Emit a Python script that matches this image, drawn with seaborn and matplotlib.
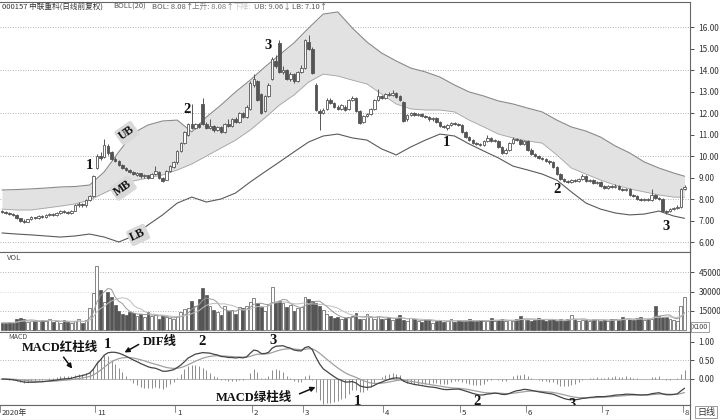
import numpy as np
import pandas as pd
import seaborn as sns
import matplotlib.pyplot as plt

sns.set_theme(style="white")
plt.rcParams['font.family'] = ['Noto Sans CJK SC', 'DejaVu Sans']
plt.rcParams['axes.unicode_minus'] = False

# daily candles (about 188 trading days)
opens = [7.45, 7.40, 7.35, 7.30, 7.25, 7.10, 7.00, 6.95, 7.05, 7.15,
         7.10, 7.20, 7.15, 7.25, 7.30, 7.25, 7.35, 7.45, 7.40, 7.35,
         7.45, 7.70, 7.75, 7.70, 7.95, 8.15, 9.45, 10.00, 9.95, 10.45,
         10.20, 9.85, 9.75, 9.60, 9.45, 9.35, 9.25, 9.10, 9.20, 9.05,
         9.10, 9.00, 9.15, 9.25, 9.00, 8.90, 9.30, 9.50, 9.70, 10.25,
         10.60, 11.00, 11.50, 11.30, 11.50, 12.40, 11.50, 11.30, 11.40, 11.20,
         11.35, 11.10, 11.50, 11.40, 11.70, 11.60, 12.00, 11.80, 12.20, 13.30,
         13.50, 12.90, 12.10, 12.80, 13.60, 14.40, 15.25, 13.90, 14.00, 13.60,
         13.80, 13.50, 13.90, 14.10, 15.30, 15.00, 13.30, 12.10, 12.00, 12.20,
         12.60, 12.45, 12.30, 12.20, 12.30, 12.20, 12.60, 12.70, 12.10, 11.60,
         11.85, 11.95, 12.20, 12.60, 12.80, 12.70, 12.90, 12.85, 12.95, 12.80,
         12.50, 11.70, 11.90, 12.00, 11.90, 11.95, 11.85, 11.80, 11.70, 11.75,
         11.60, 11.40, 11.30, 11.45, 11.55, 11.50, 11.45, 11.10, 10.90, 10.75,
         10.60, 10.55, 10.50, 10.70, 10.85, 10.70, 10.70, 10.40, 10.15, 10.30,
         10.60, 10.80, 10.75, 10.55, 10.70, 10.30, 10.10, 10.00, 9.90, 9.85,
         9.75, 9.70, 9.50, 9.15, 8.95, 8.85, 8.80, 8.90, 8.85, 8.95,
         9.05, 8.85, 8.90, 8.75, 8.80, 8.60, 8.50, 8.60, 8.55, 8.60,
         8.45, 8.40, 8.45, 8.20, 8.15, 8.00, 7.95, 8.00, 7.95, 8.20,
         8.05, 8.00, 7.45, 7.45, 7.55, 7.60, 7.65, 8.45]
closes = [7.40, 7.35, 7.30, 7.25, 7.10, 7.00, 6.95, 7.05, 7.15, 7.10,
          7.20, 7.15, 7.25, 7.30, 7.25, 7.35, 7.45, 7.40, 7.35, 7.45,
          7.70, 7.75, 7.70, 7.95, 8.15, 9.05, 10.00, 9.90, 10.50, 10.15,
          9.85, 9.75, 9.60, 9.45, 9.35, 9.25, 9.15, 9.20, 9.05, 9.10,
          9.00, 9.15, 9.30, 9.00, 8.85, 9.30, 9.55, 9.70, 10.25, 10.60,
          11.10, 11.50, 11.30, 11.50, 11.35, 11.50, 11.30, 11.40, 11.20, 11.35,
          11.10, 11.50, 11.40, 11.70, 11.60, 12.00, 11.80, 12.30, 13.40, 13.60,
          12.60, 12.00, 12.80, 13.30, 14.50, 14.20, 13.90, 14.00, 13.60, 13.80,
          13.50, 13.90, 14.10, 15.40, 15.00, 13.85, 12.15, 12.00, 12.15, 12.60,
          12.45, 12.30, 12.20, 12.35, 12.15, 12.60, 12.70, 12.10, 11.55, 11.85,
          11.95, 12.20, 12.60, 12.80, 12.70, 12.90, 12.85, 12.95, 12.75, 12.60,
          11.65, 11.90, 12.00, 11.90, 11.95, 11.85, 11.80, 11.70, 11.75, 11.60,
          11.40, 11.35, 11.45, 11.55, 11.50, 11.45, 11.10, 10.90, 10.75, 10.60,
          10.55, 10.50, 10.70, 10.85, 10.70, 10.75, 10.40, 10.15, 10.30, 10.60,
          10.80, 10.75, 10.55, 10.70, 10.30, 10.10, 10.00, 9.90, 9.85, 9.75,
          9.70, 9.50, 9.15, 8.95, 8.85, 8.80, 8.90, 8.85, 8.95, 9.05,
          8.85, 8.90, 8.75, 8.80, 8.60, 8.50, 8.60, 8.55, 8.60, 8.45,
          8.40, 8.45, 8.20, 8.15, 8.00, 7.95, 8.00, 7.95, 8.20, 8.05,
          8.00, 7.45, 7.40, 7.55, 7.60, 7.65, 8.45, 8.55]
highs = [7.50, 7.45, 7.40, 7.35, 7.28, 7.12, 7.05, 7.08, 7.20, 7.18,
         7.25, 7.24, 7.30, 7.35, 7.33, 7.40, 7.50, 7.50, 7.45, 7.50,
         7.75, 7.85, 7.80, 8.00, 8.20, 9.10, 10.10, 10.20, 10.80, 10.55,
         10.25, 9.95, 9.80, 9.65, 9.50, 9.40, 9.30, 9.25, 9.22, 9.15,
         9.12, 9.20, 9.55, 9.28, 9.02, 9.35, 9.60, 9.75, 10.30, 10.65,
         11.15, 11.55, 12.40, 11.55, 11.55, 12.70, 11.60, 11.70, 11.45, 11.40,
         11.40, 11.55, 11.70, 11.75, 11.80, 12.05, 12.05, 12.35, 13.50, 13.80,
         13.55, 12.95, 12.85, 13.40, 14.60, 14.70, 15.40, 14.20, 14.05, 13.90,
         13.85, 13.95, 14.25, 15.45, 15.65, 15.05, 13.40, 12.20, 12.25, 12.70,
         12.70, 12.50, 12.35, 12.40, 12.35, 12.65, 12.80, 12.75, 12.15, 11.90,
         12.00, 12.25, 12.65, 13.10, 12.85, 12.95, 13.00, 13.05, 13.00, 12.85,
         12.55, 11.95, 12.05, 12.05, 12.00, 12.00, 11.90, 11.85, 11.80, 11.80,
         11.65, 11.45, 11.50, 11.60, 11.60, 11.55, 11.50, 11.15, 10.95, 10.80,
         10.65, 10.60, 10.75, 11.00, 10.90, 10.80, 10.75, 10.45, 10.35, 10.65,
         10.90, 10.85, 10.80, 10.75, 10.75, 10.35, 10.15, 10.05, 9.95, 9.90,
         9.80, 9.75, 9.55, 9.20, 9.00, 8.90, 8.95, 8.95, 9.00, 9.15,
         9.10, 8.95, 8.95, 8.85, 8.85, 8.65, 8.65, 8.65, 8.70, 8.65,
         8.50, 8.50, 8.50, 8.25, 8.20, 8.05, 8.05, 8.05, 8.45, 8.25,
         8.10, 8.05, 7.50, 7.60, 7.65, 7.70, 8.50, 8.65]
lows = [7.35, 7.30, 7.25, 7.20, 7.05, 6.95, 6.90, 6.92, 7.02, 7.05,
        7.08, 7.10, 7.12, 7.20, 7.20, 7.22, 7.30, 7.35, 7.30, 7.32,
        7.42, 7.65, 7.62, 7.65, 7.90, 8.10, 9.40, 9.80, 9.90, 10.05,
        9.80, 9.70, 9.55, 9.40, 9.30, 9.20, 9.10, 9.05, 9.00, 9.00,
        8.95, 8.98, 9.10, 8.95, 8.80, 8.88, 9.25, 9.45, 9.65, 10.20,
        10.55, 10.95, 11.25, 11.25, 11.30, 11.45, 11.25, 11.25, 11.10, 11.15,
        11.05, 11.05, 11.35, 11.35, 11.55, 11.55, 11.75, 11.75, 12.15, 13.20,
        12.55, 11.95, 12.05, 12.75, 13.55, 14.10, 13.85, 13.80, 13.55, 13.50,
        13.40, 13.45, 13.85, 14.05, 14.95, 13.80, 12.10, 11.20, 11.95, 12.15,
        12.40, 12.25, 12.15, 12.15, 12.10, 12.15, 12.55, 12.05, 11.50, 11.55,
        11.80, 11.90, 12.15, 12.55, 12.65, 12.65, 12.80, 12.80, 12.70, 12.55,
        11.60, 11.65, 11.85, 11.85, 11.85, 11.80, 11.75, 11.65, 11.65, 11.55,
        11.35, 11.30, 11.20, 11.40, 11.45, 11.40, 11.05, 10.85, 10.70, 10.55,
        10.50, 10.45, 10.45, 10.65, 10.65, 10.65, 10.35, 10.10, 10.10, 10.25,
        10.55, 10.70, 10.50, 10.50, 10.25, 10.05, 9.95, 9.85, 9.80, 9.70,
        9.65, 9.45, 9.10, 8.90, 8.80, 8.75, 8.75, 8.80, 8.80, 8.90,
        8.80, 8.80, 8.70, 8.70, 8.55, 8.45, 8.45, 8.50, 8.50, 8.40,
        8.35, 8.35, 8.15, 8.10, 7.95, 7.90, 7.90, 7.90, 7.90, 8.00,
        7.95, 7.40, 7.30, 7.40, 7.50, 7.55, 7.60, 8.40]
volume = [6000, 5800, 6200, 6000, 8500, 9500, 9000, 6500, 7000, 7500,
          7000, 8000, 7500, 8500, 6500, 7000, 6000, 8000, 6500, 5500,
          7500, 9000, 6000, 8000, 17000, 29000, 49500, 31000, 22000, 30000,
          26000, 19500, 15000, 13000, 12000, 14000, 13500, 11000, 12500, 10500,
          14000, 11000, 12000, 9000, 11500, 10000, 9500, 8500, 11000, 14000,
          16500, 17500, 23000, 19000, 24000, 32500, 27000, 19000, 16000, 14000,
          12000, 19000, 15000, 15500, 13000, 18000, 17000, 19000, 22000, 25000,
          21000, 18000, 15000, 20000, 33500, 22000, 23000, 21000, 18000, 20000,
          15000, 17000, 18000, 26000, 24000, 23000, 21000, 19000, 16000, 13000,
          11000, 9500, 10000, 9000, 9500, 10500, 11000, 13500, 9000, 8500,
          13000, 10000, 9000, 11500, 8500, 9000, 10000, 8000, 9500, 12000,
          8000, 7000, 9500, 8500, 7000, 6500, 8500, 9000, 6000, 7500,
          8000, 6500, 7000, 9000, 6500, 8000, 7000, 7500, 8500, 7000,
          7500, 8000, 7000, 7500, 9500, 7500, 8000, 8500, 7000, 8000,
          7500, 8500, 11500, 9000, 8000, 7500, 8000, 9500, 8500, 7500,
          8000, 8500, 7000, 8500, 7000, 8500, 12000, 8500, 7500, 8000,
          8000, 7000, 8500, 9000, 7500, 8000, 7000, 8500, 9000, 8000,
          10500, 8500, 9000, 8000, 9500, 10000, 8000, 8500, 9000, 19000,
          11000, 10000, 10500, 9000, 8000, 7500, 18500, 26000]

# Bollinger band every 4th day
band_day = list(range(0, 185, 4)) + [187]
ub = [8.42, 8.44, 8.47, 8.51, 8.56, 8.58, 8.65, 9.26, 10.19, 11.07,
      11.44, 11.63, 11.67, 11.12, 11.81, 12.37, 12.98, 13.53, 14.14, 14.70,
      15.26, 15.95, 16.60, 16.70, 15.95, 15.30, 14.79, 14.42, 14.09, 13.91,
      13.67, 13.30, 12.98, 12.79, 12.56, 12.42, 12.23, 12.05, 11.67, 11.35,
      11.16, 10.88, 10.47, 10.14, 9.72, 9.44, 9.21, 9.06]
mb = [7.53, 7.49, 7.49, 7.58, 7.67, 7.77, 7.95, 8.28, 8.60, 8.84,
      8.98, 9.12, 9.35, 9.63, 10.00, 10.37, 10.74, 11.21, 11.77, 12.37,
      12.84, 13.44, 13.81, 13.72, 13.53, 13.35, 12.88, 12.42, 12.19, 12.14,
      12.14, 12.05, 11.67, 11.35, 11.02, 10.84, 10.70, 10.60, 10.05, 9.44,
      9.16, 8.88, 8.65, 8.47, 8.33, 8.19, 8.09, 8.08]
lb = [6.42, 6.37, 6.33, 6.28, 6.23, 6.28, 6.37, 6.23, 6.00, 6.28,
      6.79, 7.26, 7.81, 8.09, 7.86, 8.00, 8.28, 8.79, 9.26, 9.72,
      10.19, 10.65, 10.93, 11.02, 10.84, 10.74, 10.33, 10.05, 10.42, 10.74,
      11.02, 10.93, 10.56, 10.23, 9.91, 9.53, 9.35, 9.16, 8.88, 8.33,
      7.81, 7.53, 7.35, 7.26, 7.30, 7.44, 7.21, 7.10]

month_labels = ["2020年", "11", "1", "2", "3", "4", "5", "6", "7", "8"]
month_start = [0, 26, 48, 69, 83, 105, 126, 144, 165, 187]

price_ticks = [6, 7, 8, 9, 10, 11, 12, 13, 14, 15, 16]
vol_ticks = [15000, 30000, 45000]
macd_ticks = [0.0, 0.5, 1.0]

df = pd.DataFrame({"open": opens, "close": closes, "high": highs,
                   "low": lows, "vol": volume})
df["day"] = np.arange(len(df))
df["up"] = df["close"] >= df["open"]
band = pd.DataFrame({"day": band_day, "ub": ub, "mb": mb, "lb": lb})

# MACD(12,26,9) and volume averages from the daily data
ema12 = df["close"].ewm(span=12, adjust=False).mean()
ema26 = df["close"].ewm(span=26, adjust=False).mean()
df["dif"] = ema12 - ema26
df["dea"] = df["dif"].ewm(span=9, adjust=False).mean()
df["hist"] = 2 * (df["dif"] - df["dea"])
df["vma5"] = df["vol"].rolling(5, min_periods=1).mean()
df["vma10"] = df["vol"].rolling(10, min_periods=1).mean()

DARK = "#555555"
GRID = "#9a9a9a"
W = 690 / 720
fig = plt.figure(figsize=(7.2, 4.2), dpi=100)
ax = fig.add_axes([0, 0.4, W, 250 / 420])
axv = fig.add_axes([0, 88 / 420, W, 80 / 420])
axm = fig.add_axes([0, 15 / 420, W, 73 / 420])
axd = fig.add_axes([0, 0, W, 15 / 420])

xlim = (-0.55, 188.5)
for a in (ax, axv, axm, axd):
    a.set_xlim(*xlim)
    a.set_facecolor("white")
    a.spines["left"].set_visible(False)
    for s in ("top", "bottom", "right"):
        a.spines[s].set_color("#666666")
        a.spines[s].set_linewidth(0.8)
    a.set_xticks([])
    a.yaxis.tick_right()
    a.tick_params(axis="y", labelsize=6, colors="#333333", length=3,
                  width=0.6, pad=3, direction="out")

# ---- price panel ----
ax.set_ylim(5.535, 17.163)
for g in range(6, 17, 2):
    ax.axhline(g, color=GRID, lw=0.6, ls=(0, (1, 2)), zorder=0)
ax.fill_between(band["day"], band["mb"], band["ub"], color="#e2e2e2", lw=0, zorder=1)
sns.lineplot(data=band, x="day", y="ub", ax=ax, color="#8a8a8a", lw=0.8, zorder=2)
sns.lineplot(data=band, x="day", y="mb", ax=ax, color="#a5a5a5", lw=0.6, zorder=2)
sns.lineplot(data=band, x="day", y="lb", ax=ax, color="#5a5a5a", lw=0.8, zorder=2)
ax.vlines(df["day"], df["low"], df["high"], color=DARK, lw=0.7, zorder=3)
body = (df["close"] - df["open"]).abs().clip(lower=0.03)
bot = df[["open", "close"]].min(axis=1)
ax.bar(df["day"], body, bottom=bot, width=0.7,
       color=np.where(df["up"], "white", DARK), edgecolor=DARK, lw=0.6, zorder=4)
ax.set_yticks(price_ticks)
ax.set_yticklabels([f"{t:.2f}" for t in price_ticks])
ax.set_xlabel("")
ax.set_ylabel("")

hdr = [(2, "000157 中联重科(日线前复权)", "#333333"), (113, "BOLL(20)", "#555555"),
       (152, "BOL: 8.08↑", "#555555"), (192, "上升: 8.08↑", "#777777"),
       (234, "下降:", "#c8c8c8"), (254, "UB: 9.06↓", "#666666"),
       (292, "LB: 7.10↑", "#555555")]
for px, txt, c in hdr:
    fig.text(px / 720, 1 - 6.5 / 420, txt, fontsize=5.5, color=c, va="center", ha="left")

serif = ["Liberation Serif", "Noto Sans CJK SC"]


def num(a, d, v, t, **kw):
    a.text(d, v, t, fontsize=10.5, fontweight="bold", family=serif,
           ha="center", va="center", color="#111111", zorder=10, clip_on=False, **kw)


num(ax, 24.1, 9.58, "1")
num(ax, 50.7, 12.14, "2")
num(ax, 72.9, 15.16, "3")
num(ax, 121.9, 10.65, "1")
num(ax, 152.0, 8.42, "2")
num(ax, 181.9, 6.70, "3")
for d, v, t, r in [(34.2, 11.07, "UB", 35), (33.2, 8.51, "MB", 35), (37.3, 6.33, "LB", 25)]:
    ax.text(d, v, t, fontsize=8.5, fontweight="bold", family=serif, rotation=r,
            ha="center", va="center", color="#111111", zorder=10,
            bbox=dict(boxstyle="round,pad=0.2", fc="#d9d9d9", ec="none"))

# ---- volume panel ----
axv.set_ylim(-1154, 60385)
for g in vol_ticks:
    axv.axhline(g, color=GRID if g != 30000 else "#cfcfcf", lw=0.6, ls=(0, (1, 2)), zorder=0)
axv.bar(df["day"], df["vol"], width=0.78,
        color=np.where(df["up"], "white", DARK), edgecolor=DARK, lw=0.5, zorder=3)
sns.lineplot(data=df, x="day", y="vma5", ax=axv, color="#999999", lw=0.7, zorder=4)
sns.lineplot(data=df, x="day", y="vma10", ax=axv, color="#bdbdbd", lw=0.7, zorder=4)
axv.set_yticks(vol_ticks)
axv.set_yticklabels([str(t) for t in vol_ticks])
axv.set_xlabel("")
axv.set_ylabel("")
axv.text(0.01, 0.9, "VOL", transform=axv.transAxes, fontsize=5.5, color="#444444")
fig.text(692 / 720, 1 - 327 / 420, "X100", fontsize=5.2, color="#444444", va="center",
         bbox=dict(boxstyle="square,pad=0.15", fc="white", ec="#777777", lw=0.5))

# ---- macd panel ----
axm.set_ylim(-0.703, 1.27)
axm.axhline(0.5, color=GRID, lw=0.6, ls=(0, (1, 2)), zorder=0)
axm.axhline(0.0, color="#aaaaaa", lw=0.6, zorder=0)
axm.vlines(df["day"], 0, df["hist"], color="#8c8c8c", lw=0.7, zorder=2)
sns.lineplot(data=df, x="day", y="dea", ax=axm, color="#a0a0a0", lw=0.9, zorder=3)
sns.lineplot(data=df, x="day", y="dif", ax=axm, color="#444444", lw=0.9, zorder=4)
axm.set_yticks(macd_ticks)
axm.set_yticklabels([f"{t:.2f}" for t in macd_ticks])
axm.set_xlabel("")
axm.set_ylabel("")
axm.text(0.012, 0.9, "MACD", transform=axm.transAxes, fontsize=5, color="#444444")

arrow = dict(arrowstyle="-|>", color="#111111", lw=1.1, mutation_scale=7)
lab = dict(fontsize=9, fontweight="bold", family=serif, color="#111111", zorder=10)
axm.text(15.9, 0.84, "MACD红柱线", ha="center", va="center", **lab)
axm.annotate("", xy=(19.7, 0.22), xytext=(16.4, 0.65), arrowprops=arrow)
axm.text(43.3, 1.0, "DIF线", ha="center", va="center", **lab)
axm.annotate("", xy=(32.9, 0.68), xytext=(38.1, 0.97), arrowprops=arrow)
axm.text(69.0, -0.51, "MACD绿柱线", ha="center", va="center", **lab)
axm.annotate("", xy=(86.6, -0.19), xytext=(80.8, -0.43), arrowprops=arrow)
num(axm, 29.0, 0.92, "1")
num(axm, 54.8, 1.0, "2")
num(axm, 74.2, 1.05, "3")
num(axm, 97.5, -0.62, "1")
num(axm, 130.1, -0.60, "2")
num(axm, 156.2, -0.70, "3")

# ---- date strip ----
axd.set_ylim(0, 1)
axd.set_yticks([])
for d, t in zip(month_start, month_labels):
    x0 = d - 0.5
    axd.plot([x0, x0], [0.55, 1], color="#777777", lw=0.6)
    axd.text(x0 + 0.5, 0.45, t, fontsize=5.6, color="#333333", va="center", ha="left")
fig.text(697 / 720, 1 - 412 / 420, "日线", fontsize=6.5, color="#333333", va="center",
         bbox=dict(boxstyle="square,pad=0.2", fc="white", ec="#777777", lw=0.5))

fig.savefig("out.png", dpi=100, facecolor="white")
